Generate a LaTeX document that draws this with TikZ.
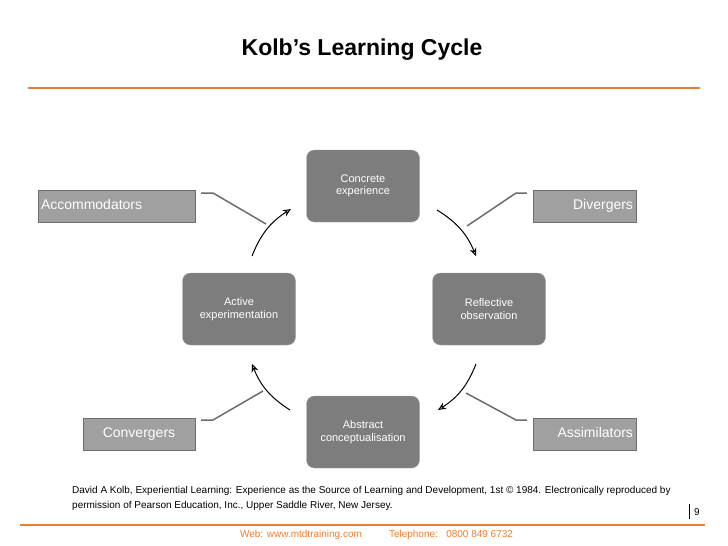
\documentclass[tikz,border=0pt]{standalone}
\usepackage{fontspec}
\setmainfont{Liberation Sans}
\usetikzlibrary{arrows.meta}
\definecolor{org}{RGB}{237,125,49}
\definecolor{bx}{RGB}{125,125,125}
\definecolor{lb}{RGB}{160,160,160}
\definecolor{lbd}{RGB}{110,110,110}
\begin{document}
\begin{tikzpicture}[x=1pt,y=-1pt,
 stage/.style={rounded corners=8pt,fill=bx,draw=bx!70!white,minimum width=113pt,minimum height=72pt,text=white,align=center,font=\fontsize{11}{12.5}\selectfont,inner sep=0pt},
 lab/.style={fill=lb,draw=lbd,line width=0.8pt,minimum height=32pt,text=white,font=\fontsize{14}{16}\selectfont,inner sep=3pt,text height=10pt,text depth=3pt},
 link/.style={draw=gray!85!black,line width=1.5pt},
 cyc/.style={draw=black,line width=1pt,-{Stealth[length=8pt,width=7pt,open]}}]
\useasboundingbox (0,0) rectangle (728,546);
\node[font=\bfseries\fontsize{23}{26}\selectfont] (t) at (362,50) {Kolb’s Learning Cycle};
\draw[org,line width=2pt] (28,88) -- (700,88);
\node[stage] (ce) at (363,186) {Concrete\\experience};
\node[stage] (ae) at (239,309) {Active\\experimentation};
\node[stage] (ro) at (489,309) {Reflective\\observation};
\node[stage] (ac) at (363,432) {Abstract\\conceptualisation};
\node[lab,minimum width=157pt,text width=151pt,align=left] (acc) at (116.5,206) {Accommodators};
\node[lab,minimum width=103pt,text width=97pt,align=right] (div) at (584.5,206) {Divergers};
\node[lab,minimum width=112pt,text width=106pt,align=center] (con) at (139,434) {Convergers};
\node[lab,minimum width=103pt,text width=97pt,align=right] (ass) at (584.5,434) {Assimilators};
\coordinate (a1) at (201,193); \coordinate (a2) at (213,193); \coordinate (a3) at (266,224);
\coordinate (d1) at (527,193); \coordinate (d2) at (516,193); \coordinate (d3) at (467,226);
\coordinate (c1) at (201,420); \coordinate (c2) at (213,420); \coordinate (c3) at (263,391);
\coordinate (s1) at (527,420); \coordinate (s2) at (516,420); \coordinate (s3) at (466,393);
\draw[link] (a1) -- (a2) -- (a3);
\draw[link] (d1) -- (d2) -- (d3);
\draw[link] (c1) -- (c2) -- (c3);
\draw[link] (s1) -- (s2) -- (s3);
\coordinate (p1) at (252,256); \coordinate (p2) at (291,209);
\coordinate (q1) at (437,210); \coordinate (q2) at (476,256);
\coordinate (r1) at (476,364); \coordinate (r2) at (438,410);
\coordinate (u1) at (290,410); \coordinate (u2) at (252,364);
\draw[cyc] (p1) to[bend left=18] (p2);
\draw[cyc] (q1) to[bend left=18] (q2);
\draw[cyc] (r1) to[bend left=18] (r2);
\draw[cyc] (u1) to[bend left=18] (u2);
\node[anchor=north west,align=left,font=\fontsize{10}{15}\selectfont,inner sep=0pt] (cit) at (72,486) {David A Kolb, Experiential Learning: Experience as the Source of Learning and Development, 1st © 1984. Electronically reproduced by\\permission of Pearson Education, Inc., Upper Saddle River, New Jersey.};
\node[font=\fontsize{10}{12}\selectfont,inner sep=0pt] (pg) at (697,512) {9};
\draw[line width=1pt] (689,504) -- (689,519);
\draw[org,line width=2pt] (20,525) -- (705,525);
\node[text=org,font=\fontsize{10}{12}\selectfont,inner sep=0pt] (f1) at (301,535) {Web: www.mtdtraining.com};
\node[text=org,font=\fontsize{10}{12}\selectfont,inner sep=0pt] (f2) at (451,535) {Telephone:\ \ \ 0800 849 6732};
\end{tikzpicture}
\end{document}
